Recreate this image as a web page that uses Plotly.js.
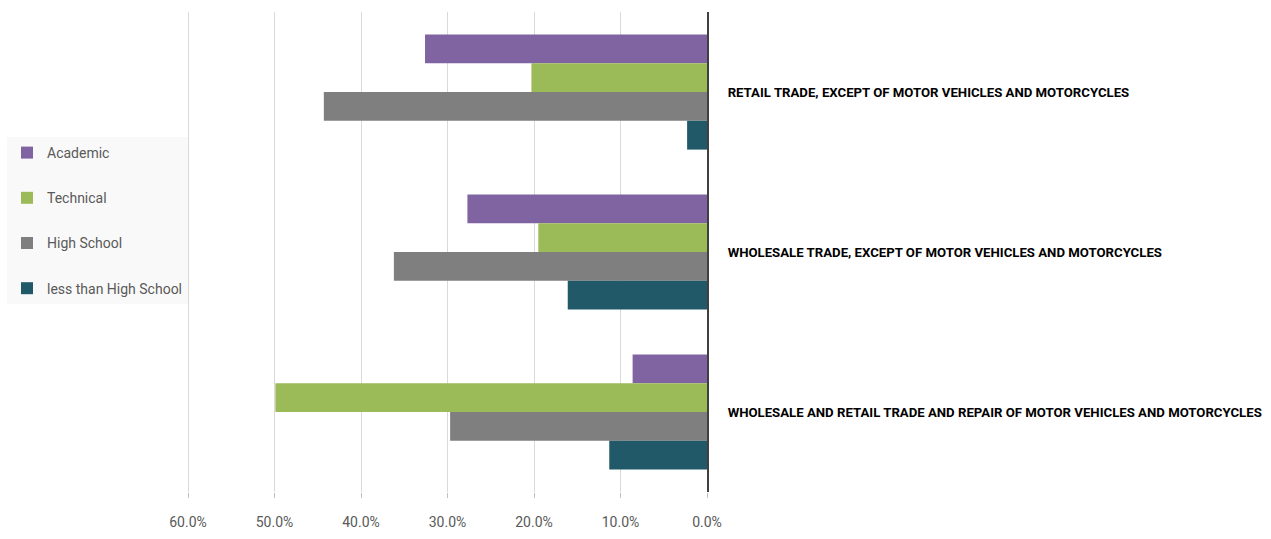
<!DOCTYPE html>
<html>
<head>
<meta charset="utf-8">
<script src="https://cdn.plot.ly/plotly-3.0.1.min.js"></script>
<style>html,body{margin:0;padding:0;background:#fff;}#chart{width:1271px;height:539px;}</style>
</head>
<body>
<div id="chart"></div>
<script>
var categories = [
  "RETAIL TRADE, EXCEPT OF MOTOR VEHICLES AND MOTORCYCLES",
  "WHOLESALE TRADE, EXCEPT OF MOTOR VEHICLES AND MOTORCYCLES",
  "WHOLESALE AND RETAIL TRADE AND REPAIR OF MOTOR VEHICLES AND MOTORCYCLES"
];
var seriesNames = ["Academic", "Technical", "High School", "less than High School"];
var academic = [32.6, 27.7, 8.6];
var technical = [20.3, 19.5, 49.9];
var highSchool = [44.3, 36.2, 29.7];
var lessThanHS = [2.3, 16.1, 11.3];
var tickValues = [0, 10, 20, 30, 40, 50, 60];
var colors = ["#8064a2", "#9bbb59", "#7f7f7f", "#215968"];

var font = "Roboto, 'Liberation Sans', sans-serif";
var allValues = [academic, technical, highSchool, lessThanHS];
var traces = allValues.map(function (vals, i) {
  return {
    type: "bar",
    orientation: "h",
    name: seriesNames[i],
    legendgroup: "g" + i,
    x: vals,
    y: categories,
    marker: { color: colors[i] },
    hoverinfo: "x+y+name"
  };
});

var layout = {
  width: 1271,
  height: 539,
  paper_bgcolor: "#ffffff",
  plot_bgcolor: "#ffffff",
  margin: { l: 185, r: 564, t: 12, b: 47, autoexpand: false },
  barmode: "group",
  bargap: 0.28,
  bargroupgap: 0,
  font: { family: font, color: "#595959", size: 14 },
  xaxis: {
    range: [60.35, 0],
    tickvals: tickValues,
    ticktext: tickValues.map(function (v) { return v.toFixed(1) + "%"; }),
    showgrid: true,
    gridcolor: "#d9d9d9",
    gridwidth: 1,
    zeroline: false,
    ticks: "outside",
    ticklen: 5,
    tickcolor: "#bfbfbf",
    ticklabelstandoff: 12,
    tickfont: { family: font, size: 14, color: "#595959" },
    showline: false,
    fixedrange: true
  },
  yaxis: {
    type: "category",
    autorange: "reversed",
    side: "right",
    showline: true,
    linecolor: "#404040",
    linewidth: 2,
    showgrid: false,
    zeroline: false,
    ticks: "",
    ticklabelstandoff: 16,
    tickfont: { family: font, size: 13.2, color: "#000000", weight: "bold" },
    fixedrange: true
  },
  showlegend: true,
  legend: {
    xref: "container",
    yref: "container",
    x: 7 / 1271,
    y: 1 - 137 / 539,
    xanchor: "left",
    yanchor: "top",
    bgcolor: "#f9f9f9",
    borderwidth: 0,
    traceorder: "grouped",
    tracegroupgap: 24,
    font: { family: font, size: 14, color: "#595959" },
    itemwidth: 30
  }
};

Plotly.newPlot("chart", traces, layout, { displayModeBar: false, staticPlot: true });
</script>
</body>
</html>
